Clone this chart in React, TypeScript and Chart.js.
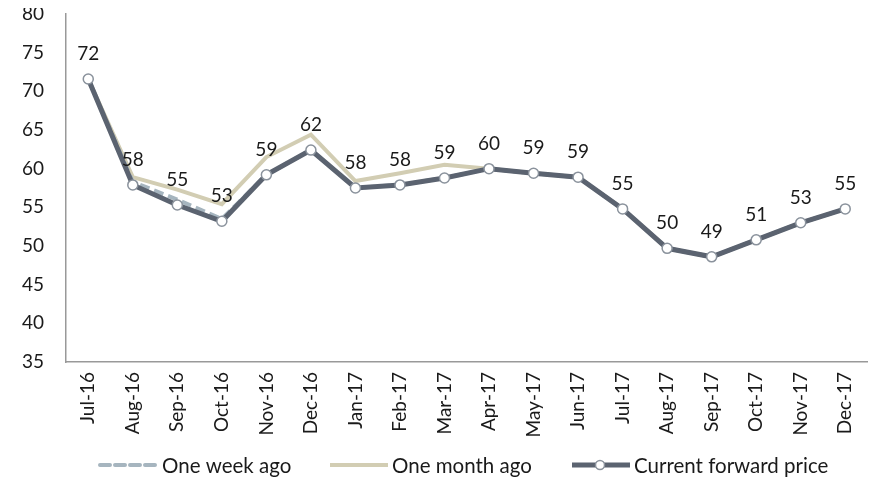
import React, { useEffect, useRef } from "react";
import { Chart, registerables } from "chart.js";

Chart.register(...registerables);

const categories = ["Jul-16","Aug-16","Sep-16","Oct-16","Nov-16","Dec-16","Jan-17","Feb-17","Mar-17","Apr-17","May-17","Jun-17","Jul-17","Aug-17","Sep-17","Oct-17","Nov-17","Dec-17"];
const oneWeekAgo = [71.6, 58.3, 56.0, 53.5, 59.2, 62.4, 57.5, 57.9, 58.8, 60.0, 59.4, 58.9, 54.8, 49.7, 48.6, 50.8, 53.0, 54.8];
const oneMonthAgo = [71.6, 58.9, 57.3, 55.4, 61.5, 64.4, 58.4, 59.4, 60.5, 60.0, 59.4, 58.9, 54.8, 49.7, 48.6, 50.8, 53.0, 54.8];
const currentForward = [71.6, 57.9, 55.3, 53.2, 59.2, 62.4, 57.5, 57.9, 58.8, 60.0, 59.4, 58.9, 54.8, 49.7, 48.6, 50.8, 53.0, 54.8];
const yTicks = [35, 40, 45, 50, 55, 60, 65, 70, 75, 80];

const FONT = "Lato, 'Open Sans', sans-serif";

const labelPlugin = {
  id: "valueLabels",
  afterDatasetsDraw(chart: any) {
    const ctx = chart.ctx;
    const meta = chart.getDatasetMeta(2);
    const data = chart.data.datasets[2].data;
    ctx.save();
    ctx.font = `19px ${FONT}`;
    ctx.fillStyle = "#1a1a1a";
    ctx.textAlign = "center";
    ctx.textBaseline = "middle";
    meta.data.forEach((pt: any, i: number) => {
      ctx.fillText(String(Math.round(data[i])), pt.x, pt.y - 25);
    });
    ctx.restore();
  },
};

const legendPlugin = {
  id: "customLegend",
  afterDraw(chart: any) {
    const ctx = chart.ctx;
    const y = 465;
    const items = [
      { x: 92, text: chart.data.datasets[0].label, ds: 0 },
      { x: 322, text: chart.data.datasets[1].label, ds: 1 },
      { x: 564, text: chart.data.datasets[2].label, ds: 2 },
    ];
    ctx.save();
    items.forEach((it) => {
      const ds = chart.data.datasets[it.ds];
      ctx.beginPath();
      ctx.strokeStyle = ds.borderColor;
      ctx.lineWidth = ds.borderWidth;
      ctx.lineCap = it.ds === 0 ? "round" : "butt";
      ctx.setLineDash(ds.borderDash || []);
      ctx.moveTo(it.x, y);
      ctx.lineTo(it.x + 58, y);
      ctx.stroke();
      ctx.setLineDash([]);
      if (it.ds === 2) {
        ctx.beginPath();
        ctx.fillStyle = "#ffffff";
        ctx.strokeStyle = ds.pointBorderColor;
        ctx.lineWidth = 1.5;
        ctx.arc(it.x + 28, y, 4.5, 0, Math.PI * 2);
        ctx.fill();
        ctx.stroke();
      }
      ctx.fillStyle = "#1a1a1a";
      ctx.font = `20.5px ${FONT}`;
      ctx.textAlign = "left";
      ctx.textBaseline = "middle";
      ctx.fillText(it.text, it.x + 62, y + 1);
    });
    ctx.restore();
  },
};

export default function App() {
  const ref = useRef<HTMLCanvasElement>(null);
  useEffect(() => {
    if (!ref.current) return;
    const chart = new Chart(ref.current, {
      type: "line",
      data: {
        labels: categories,
        datasets: [
          {
            label: "One week ago",
            data: oneWeekAgo,
            borderColor: "#a6b5bf",
            borderWidth: 4,
            borderDash: [10, 5],
            pointRadius: 0,
            tension: 0,
            order: 1,
          },
          {
            label: "One month ago",
            data: oneMonthAgo,
            borderColor: "#d2cdb3",
            borderWidth: 4,
            pointRadius: 0,
            tension: 0,
            order: 2,
          },
          {
            label: "Current forward price",
            data: currentForward,
            borderColor: "#5b6370",
            borderWidth: 5,
            pointRadius: 5,
            pointBackgroundColor: "#ffffff",
            pointBorderColor: "#8a929c",
            pointBorderWidth: 1.5,
            tension: 0,
            order: 0,
          },
        ],
      },
      options: {
        responsive: false,
        animation: false,
        layout: { padding: { top: 14, right: 1, left: 0, bottom: 0 } },
        plugins: { legend: { display: false }, tooltip: { enabled: false } },
        scales: {
          x: {
            offset: true,
            grid: { display: false, drawTicks: true, tickLength: 6, color: "#999999", offset: true },
            border: { color: "#999999", width: 1.5 },
            ticks: {
              color: "#1a1a1a",
              font: { family: FONT, size: 19 },
              maxRotation: 90,
              minRotation: 90,
              autoSkip: false,
              padding: 4,
            },
            afterFit(scale: any) {
              scale.height = 120;
              scale.paddingLeft = 0;
              scale.paddingRight = 0;
            },
          },
          y: {
            min: 35,
            max: 80,
            afterBuildTicks(scale: any) {
              scale.ticks = yTicks.map((v) => ({ value: v }));
            },
            grid: { display: false, drawTicks: true, tickLength: 7, color: "#999999" },
            border: { color: "#999999", width: 1.5 },
            ticks: {
              color: "#1a1a1a",
              font: { family: FONT, size: 19 },
              padding: 15,
            },
            afterFit(scale: any) {
              scale.width = 58;
              scale.paddingTop = 0;
              scale.paddingBottom = 0;
            },
          },
        },
      },
      plugins: [labelPlugin, legendPlugin],
    });
    return () => chart.destroy();
  }, []);
  return (
    <canvas
      ref={ref}
      width={866}
      height={482}
      style={{ display: "block", marginTop: -8 }}
    />
  );
}
